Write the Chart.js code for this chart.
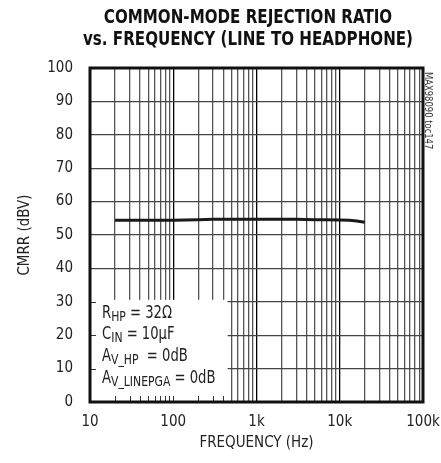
<!DOCTYPE html>
<html>
<head>
<meta charset="utf-8">
<script src="https://cdn.jsdelivr.net/npm/chart.js@4/dist/chart.umd.min.js"></script>
<style>
  html, body { margin: 0; padding: 0; background: #fff; }
  #wrap { width: 441px; height: 463px; }
</style>
</head>
<body>
<div id="wrap"><canvas id="cmrrChart"></canvas></div>
<script>
// values
const freqHz = [20, 30, 50, 100, 200, 300, 500, 1000, 2000, 3000, 5000, 7000, 10000, 13000, 16000, 20000];
const cmrrDb = [54.4, 54.4, 54.4, 54.4, 54.6, 54.7, 54.7, 54.7, 54.7, 54.7, 54.6, 54.6, 54.5, 54.4, 54.2, 53.8];

const xTickLabels = { 10: '10', 100: '100', 1000: '1k', 10000: '10k', 100000: '100k' };
const yTickValues = [0, 10, 20, 30, 40, 50, 60, 70, 80, 90, 100];

const titleLines = ['COMMON-MODE REJECTION RATIO', 'vs. FREQUENCY (LINE TO HEADPHONE)'];
const sideNote = 'MAX98090 toc147';
// each note line: [text, subscript?] pieces
const noteLines = [
  [['R', false], ['HP', true], [' = 32\u03A9', false]],
  [['C', false], ['IN', true], [' = 10\u00B5F', false]],
  [['A', false], ['V_HP', true], ['  = 0dB', false]],
  [['A', false], ['V_LINEPGA', true], [' = 0dB', false]]
];

const FONT = '"Liberation Sans Narrow", "DejaVu Sans Condensed", "Liberation Sans", sans-serif';
const NOTE_MAX_FREQ = 450;   // right edge of the conditions box
const NOTE_TOP_DB = 30.6;    // top edge of the conditions box

// x grid: every 1..9 multiple in each decade
function logTicks(scale) {
  const t = [];
  for (let d = 10; d <= 100000; d *= 10) {
    for (let m = 1; m <= 9; m++) {
      const v = d * m;
      if (v > 100000) break;
      t.push({ value: v, major: m === 1 });
    }
  }
  scale.ticks = t;
}

// text squeezed horizontally to mimic the condensed face
function narrowText(ctx, txt, x, y, sx) {
  ctx.save();
  ctx.translate(x, y);
  ctx.scale(sx, 1);
  ctx.fillText(txt, 0, 0);
  ctx.restore();
  return ctx.measureText(txt).width * sx;
}

const extras = {
  id: 'extras',
  beforeDatasetsDraw(chart) {
    const { ctx, chartArea: a, scales: { x, y } } = chart;
    const bx = x.getPixelForValue(NOTE_MAX_FREQ);
    const by = y.getPixelForValue(NOTE_TOP_DB);
    ctx.save();
    ctx.fillStyle = '#fff';
    ctx.fillRect(a.left, by, bx - a.left, a.bottom - by);
    // small tick marks inside the box
    ctx.strokeStyle = '#333';
    ctx.lineWidth = 1;
    ctx.beginPath();
    [10, 20, 30].forEach(v => {
      const py = Math.round(y.getPixelForValue(v)) + 0.5;
      ctx.moveTo(a.left, py); ctx.lineTo(a.left + 6, py);
    });
    x.ticks.forEach(t => {
      if (t.value > 10 && t.value < NOTE_MAX_FREQ) {
        const px = Math.round(x.getPixelForValue(t.value)) + 0.5;
        ctx.moveTo(px, a.bottom); ctx.lineTo(px, a.bottom - 6);
      }
    });
    ctx.stroke();
    // condition text
    ctx.fillStyle = '#222';
    ctx.textBaseline = 'alphabetic';
    ctx.textAlign = 'left';
    noteLines.forEach((parts, i) => {
      let px = a.left + 12;
      const base = by + 18 + i * 21.6;
      parts.forEach(([txt, sub]) => {
        ctx.font = (sub ? '14px ' : '17px ') + FONT;
        px += narrowText(ctx, txt, px, base + (sub ? 3 : 0), 0.86);
      });
    });
    ctx.restore();
  },
  afterDraw(chart) {
    const { ctx, chartArea: a } = chart;
    ctx.save();
    ctx.strokeStyle = '#111';
    ctx.lineWidth = 3;
    ctx.strokeRect(a.left, a.top, a.right - a.left, a.bottom - a.top);
    // title
    ctx.fillStyle = '#111';
    ctx.textAlign = 'center';
    ctx.textBaseline = 'middle';
    ctx.font = 'bold 20px ' + FONT;
    titleLines.forEach((line, i) => narrowText(ctx, line, 248, 18 + i * 22, 0.84));
    // side note
    ctx.translate(a.right + 5, a.top + 4);
    ctx.rotate(Math.PI / 2);
    ctx.font = '11px ' + FONT;
    ctx.fillStyle = '#333';
    ctx.textAlign = 'left';
    narrowText(ctx, sideNote, 0, 0, 0.85);
    ctx.restore();
  }
};

new Chart(document.getElementById('cmrrChart'), {
  type: 'line',
  data: {
    datasets: [{
      data: freqHz.map((f, i) => ({ x: f, y: cmrrDb[i] })),
      borderColor: '#1a1a1a',
      borderWidth: 3,
      pointRadius: 0,
      tension: 0,
      fill: false
    }]
  },
  options: {
    responsive: true,
    maintainAspectRatio: false,
    animation: false,
    layout: { padding: { top: 68, right: 18, left: 0, bottom: 0 } },
    plugins: { legend: { display: false }, tooltip: { enabled: false } },
    scales: {
      x: {
        type: 'logarithmic',
        min: 10,
        max: 100000,
        afterBuildTicks: logTicks,
        afterFit(s) { s.height = 61; s.paddingLeft = 0; s.paddingRight = 0; },
        grid: {
          color: c => (c.tick && c.tick.major ? '#000' : '#555'),
          lineWidth: 1.3,
          drawTicks: false
        },
        border: { display: false },
        ticks: {
          autoSkip: false,
          maxRotation: 0,
          padding: 11,
          color: '#222',
          font: { family: FONT, size: 15 },
          callback: v => xTickLabels[v] || ''
        },
        title: {
          display: true,
          text: 'FREQUENCY (Hz)',
          color: '#222',
          font: { family: FONT, size: 15 },
          padding: { top: 0, bottom: 11 }
        }
      },
      y: {
        min: 0,
        max: 100,
        afterBuildTicks(s) { s.ticks = yTickValues.map(v => ({ value: v })); },
        afterFit(s) { s.width = 90; s.paddingTop = 0; s.paddingBottom = 0; },
        grid: { color: '#444', lineWidth: 1.3, drawTicks: false },
        border: { display: false },
        ticks: {
          padding: 17,
          color: '#222',
          font: { family: FONT, size: 15 }
        },
        title: {
          display: true,
          text: 'CMRR (dBV)',
          color: '#222',
          font: { family: FONT, size: 15 },
          padding: { top: 16, bottom: 0 }
        }
      }
    }
  },
  plugins: [extras]
});
</script>
</body>
</html>
